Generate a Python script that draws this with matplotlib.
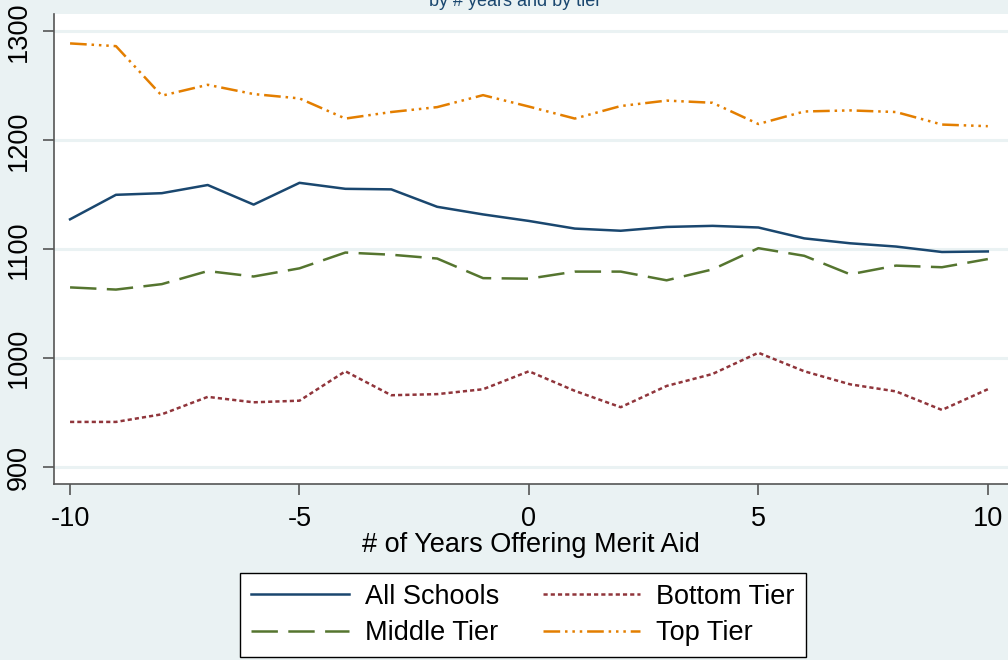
import matplotlib
matplotlib.use("Agg")
import matplotlib.pyplot as plt

plt.rcParams['font.family'] = ['Liberation Sans', 'DejaVu Sans']
plt.rcParams['lines.scale_dashes'] = False
plt.rcParams['axes.unicode_minus'] = False

anios = list(range(-10, 11))
todas = [1127.5, 1150, 1151.5, 1159, 1141, 1161, 1155.5, 1155, 1139, 1132, 1126,
         1119, 1117, 1120.5, 1121.5, 1120, 1110, 1105.5, 1102.5, 1097.5, 1098]
medio = [1065, 1063, 1068, 1080, 1075, 1082.5, 1097, 1095, 1091.5, 1073.5, 1073,
         1079.5, 1079.5, 1071.5, 1081.5, 1101, 1094, 1077, 1085, 1083.5, 1091]
bajo = [941.5, 941.5, 948.5, 964.5, 959.5, 961, 988, 966, 967, 971.5, 988,
        970, 955, 974.5, 985.5, 1005, 988, 976, 969.5, 952.5, 971.5]
alto = [1289, 1286.5, 1241, 1251, 1242.5, 1238.5, 1220, 1226, 1230.5, 1241.5, 1231,
        1220, 1231.5, 1236.5, 1234.5, 1215, 1226.5, 1227.5, 1226, 1214.5, 1213]
yticks = [900, 1000, 1100, 1200, 1300]
xticks = [-10, -5, 0, 5, 10]

fondo = '#eaf2f3'
fig = plt.figure(figsize=(10.08, 6.6), dpi=100, facecolor=fondo)
ax = fig.add_axes([54 / 1008, 176 / 660, 954 / 1008, 470 / 660])
ax.set_facecolor('white')

l1, = ax.plot(anios, todas, color='#1a476f', lw=1.8, label='All Schools')
l2, = ax.plot(anios, bajo, color='#90353b', lw=1.8, dashes=(3, 2.2), label='Bottom Tier')
l3, = ax.plot(anios, medio, color='#55752f', lw=1.8, dashes=(19, 7.5), label='Middle Tier')
l4, = ax.plot(anios, alto, color='#e37e00', lw=1.8,
              dashes=(12, 3.5, 1.8, 3.5, 1.8, 3.5, 1.8, 3.5), label='Top Tier')

ax.set_xlim(-10.35, 10.44)
ax.set_ylim(884.5, 1316)
ax.set_yticks(yticks)
ax.set_xticks(xticks)
ax.grid(axis='y', color=fondo, lw=2.2)
ax.set_axisbelow(True)
for lado in ['top', 'right']:
    ax.spines[lado].set_visible(False)
for lado in ['left', 'bottom']:
    ax.spines[lado].set_color('#555555')
    ax.spines[lado].set_linewidth(1.2)
ax.tick_params(axis='y', length=8, width=1.2, color='#555555', labelsize=19.5, pad=8)
ax.tick_params(axis='x', length=8, width=1.2, color='#555555', labelsize=19.5, pad=8)
for t in ax.get_yticklabels():
    t.set_rotation(90)
    t.set_va('center')
ax.set_xlabel('# of Years Offering Merit Aid', fontsize=19.5, labelpad=0)

fig.text(0.511, 1 - 6 / 660, 'by # years and by tier', ha='center', va='baseline',
         fontsize=13, color='#1a476f')

ley = fig.legend(handles=[l1, l3, l2, l4], labels=['All Schools', 'Middle Tier', 'Bottom Tier', 'Top Tier'],
                 ncol=2, loc='center', bbox_to_anchor=(523 / 1008, 1 - 615 / 660),
                 fontsize=19.5, frameon=True, fancybox=False, edgecolor='black',
                 facecolor='white', framealpha=1,
                 handlelength=3.6, handletextpad=0.6, columnspacing=1.6,
                 borderpad=0.4, labelspacing=0.4, borderaxespad=0)
ley.get_frame().set_linewidth(1.0)

fig.savefig('out.png', dpi=100, facecolor=fondo)
